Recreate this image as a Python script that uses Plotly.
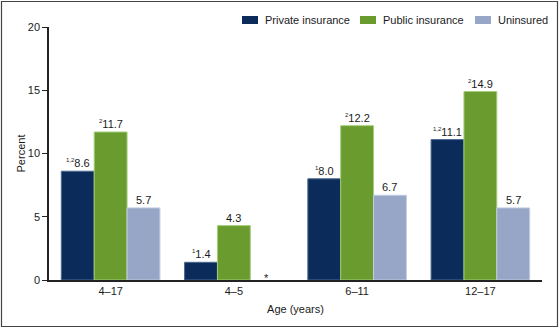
import plotly.graph_objects as go

# Age groups and percentages by health insurance status
age_groups = ["4\u201317", "4\u20135", "6\u201311", "12\u201317"]
private_vals = [8.6, 1.4, 8.0, 11.1]
public_vals = [11.7, 4.3, 12.2, 14.9]
uninsured_vals = [5.7, None, 6.7, 5.7]

# Superscript footnote markers attached to each value label
private_notes = ["1,2", "1", "1", "1,2"]
public_notes = ["2", "", "2", "2"]
uninsured_notes = ["", "", "", ""]

series_names = ["Private insurance", "Public insurance", "Uninsured"]
colors = ["#0b2c5b", "#6a9b2f", "#97a6c6"]
edge_colors = ["#4a6a90", "#a6cf7a", "#c3cde2"]

FONT = "Liberation Sans, Arial, sans-serif"
TXT = "#1a1a1a"

# Plot area in pixels (fixed margins, no auto-expansion)
W, H = 560, 329
ML, MR, MT, MB = 49, 18, 27, 49
PW, PH = W - ML - MR, H - MT - MB
BARGAP = 0.2
N_SERIES = 3
# width in pixels of one bar inside a group
BAR_PX = PW / len(age_groups) * (1 - BARGAP) / N_SERIES


def px_x(px):
    return (px - ML) / PW


def px_y(py):
    return (H - MB - py) / PH


def label_text(v, note):
    if note:
        return f'<sup><span style="font-size:6px">{note}</span></sup>{v:.1f}'
    return f"{v:.1f}"


fig = go.Figure()
all_vals = [private_vals, public_vals, uninsured_vals]
all_notes = [private_notes, public_notes, uninsured_notes]
for k, (name, vals, notes, c, ec) in enumerate(
    zip(series_names, all_vals, all_notes, colors, edge_colors)
):
    fig.add_trace(
        go.Bar(
            name=name,
            x=age_groups,
            y=vals,
            marker=dict(color=c, line=dict(color=ec, width=1)),
            hoverinfo="skip",
            showlegend=False,
        )
    )
    shift = (k - (N_SERIES - 1) / 2) * BAR_PX
    for cat, v, n in zip(age_groups, vals, notes):
        if v is None:
            # Estimate does not meet reliability standards
            fig.add_annotation(
                x=cat, y=0, xref="x", yref="y", text="*", showarrow=False,
                xshift=shift, yanchor="bottom", yshift=-6,
                font=dict(family=FONT, size=11, color=TXT),
            )
            continue
        fig.add_annotation(
            x=cat, y=v, xref="x", yref="y", text=label_text(v, n),
            showarrow=False, xshift=shift, yanchor="bottom", yshift=0,
            font=dict(family=FONT, size=11, color=TXT),
        )

# Legend row across the top: wide swatch followed by the series name
legend_swatch_left = [242, 360, 475]
for name, c, left in zip(series_names, colors, legend_swatch_left):
    fig.add_shape(
        type="rect", xref="paper", yref="paper",
        x0=px_x(left), x1=px_x(left + 16), y0=px_y(24), y1=px_y(16),
        line=dict(width=0), fillcolor=c,
    )
    fig.add_annotation(
        x=px_x(left + 21), y=px_y(20), xref="paper", yref="paper",
        text=name, showarrow=False, xanchor="left", yanchor="middle",
        font=dict(family=FONT, size=11, color=TXT),
    )

# Outer frame around the whole figure
fig.add_shape(
    type="rect", xref="paper", yref="paper",
    x0=px_x(1.5), x1=px_x(557.5), y0=px_y(326.5), y1=px_y(1.5),
    line=dict(color="#444444", width=1.2), fillcolor="rgba(0,0,0,0)",
)

fig.update_layout(
    width=W,
    height=H,
    margin=dict(l=ML, r=MR, t=MT, b=MB, autoexpand=False),
    paper_bgcolor="white",
    plot_bgcolor="white",
    barmode="group",
    bargap=BARGAP,
    bargroupgap=0,
    font=dict(family=FONT, size=11, color=TXT),
    xaxis=dict(
        showline=True, linecolor="#222222", linewidth=1.5,
        ticks="", showgrid=False,
        tickfont=dict(family=FONT, size=11, color=TXT),
        title=dict(text="Age (years)", font=dict(family=FONT, size=11, color=TXT), standoff=9),
    ),
    yaxis=dict(
        range=[0, 20], tickvals=[0, 5, 10, 15, 20],
        showline=True, linecolor="#222222", linewidth=1.5,
        ticks="outside", ticklen=5, tickcolor="#222222", tickwidth=1,
        showgrid=False, zeroline=False,
        tickfont=dict(family=FONT, size=11, color=TXT),
        title=dict(text="Percent", font=dict(family=FONT, size=11, color=TXT), standoff=0),
    ),
)

fig.write_html("out.html")
